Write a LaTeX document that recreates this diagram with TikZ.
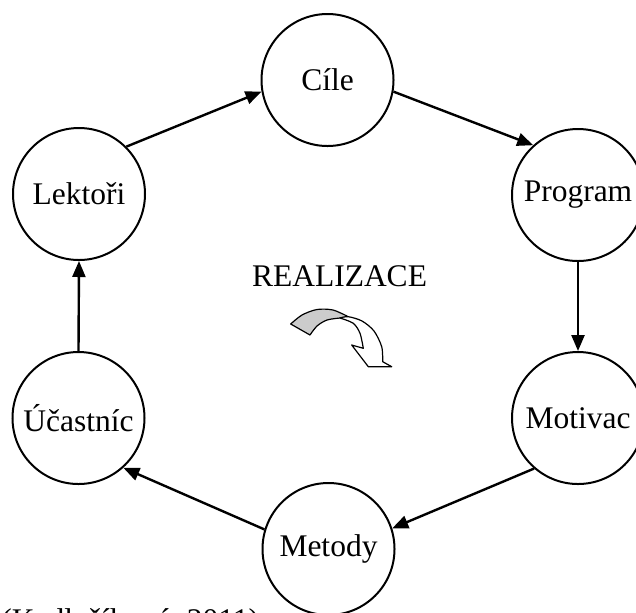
\documentclass[tikz,border=0pt]{standalone}
\usepackage{fontspec}
\setmainfont{Liberation Serif}
\usetikzlibrary{arrows.meta}
\begin{document}
\begin{tikzpicture}[x=0.5pt,y=-0.5pt,
  cnode/.style={circle,draw,line width=1pt,minimum size=66pt,inner sep=0pt,font=\fontsize{15.75}{18}\selectfont},
  conn/.style={line width=1.2pt,-{Triangle[length=8pt,width=6.5pt]}},
  txt/.style={font=\fontsize{15.75}{18}\selectfont,inner sep=0pt},
  ribbon/.style={draw,line width=0.6pt,line join=round}]
\useasboundingbox (0,0) rectangle (636,612);
\node[cnode] (C) at (327.5,80) {Cíle};
\node[cnode] (P) at (578,195) {Program};
\node[cnode] (M) at (578,418) {Motivac};
\node[cnode] (Me) at (328.5,549) {Metody};
\node[cnode] (U) at (78.5,418) {Účastníc};
\node[cnode] (L) at (79,194) {Lektoři};
\draw[conn] (L.45) -- (C.190);
\draw[conn] (C.350) -- (P.132);
\draw[conn] (P.270) -- (M.90);
\draw[conn] (M.229) -- (Me.18);
\draw[conn] (Me.163) -- (U.312);
\draw[conn] (U.90) -- (L.270);
\node[txt] (R) at (339.5,276) {REALIZACE};
\node[txt,anchor=base west] (src) at (1,630) {(Kadlečíková, 2011)};
% curved arrow
\filldraw[ribbon,fill=gray!40] plot[smooth] coordinates {(290.7,324) (302,315) (317,309.5) (333,310) (348.3,316.7)}
  -- plot[smooth] coordinates {(340,318) (327,320) (317,326) (310,335)} -- cycle;
\filldraw[ribbon,fill=white] plot[smooth] coordinates {(340,318) (353.3,323.3) (360,333.3) (363.3,348.3)}
  -- (351.7,345) -- (368.3,366.7) -- (391.7,366.7) -- (382.7,361.7)
  -- plot[smooth] coordinates {(382.7,361.7) (381.7,346.7) (374,331) (362,321) (348.3,316.7) (340,318)} -- cycle;
\end{tikzpicture}
\end{document}
